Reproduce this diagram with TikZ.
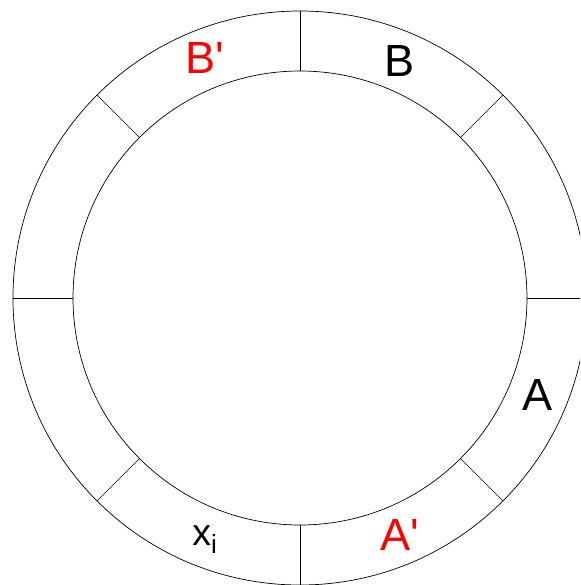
\documentclass[tikz,border=0pt]{standalone}
\usepackage{fontspec}
\setmainfont{Liberation Sans}
\usepackage{xcolor}
\usetikzlibrary{positioning}

\begin{document}
\begin{tikzpicture}[
    x=0.03cm, y=0.03cm,
    ring/.style={draw, line width=0.6pt},
    divider/.style={draw, line width=0.6pt},
    cell label/.style={anchor=base, inner sep=0pt, font=\fontsize{38.5}{40}\selectfont},
    small label/.style={anchor=base, inner sep=0pt, font=\fontsize{32}{36}\selectfont},
  ]
  \useasboundingbox (-300,-287) rectangle (280,298);
  \clip (-300,-287) rectangle (280,298);

  \coordinate (O) at (0,0);
  \draw[ring] (O) circle (287);
  \draw[ring] (O) circle (227);

  % radial dividers every 45 degrees
  \foreach \a in {0,45,...,315} {
    \coordinate (in\a)  at (\a:227);
    \coordinate (out\a) at (\a:287);
    \draw[divider] (in\a) -- (out\a);
  }

  \node[cell label, text=red] (Bp) at (-95,224)  {B\textquotesingle};
  \node[cell label]           (B)  at (100,221)  {B};
  \node[cell label]           (A)  at (238,-112) {A};
  \node[cell label, text=red] (Ap) at (100,-252) {A\textquotesingle};
  \node[small label]          (xi) at (-95,-247) {x\textsubscript{i}};

\end{tikzpicture}
\end{document}
